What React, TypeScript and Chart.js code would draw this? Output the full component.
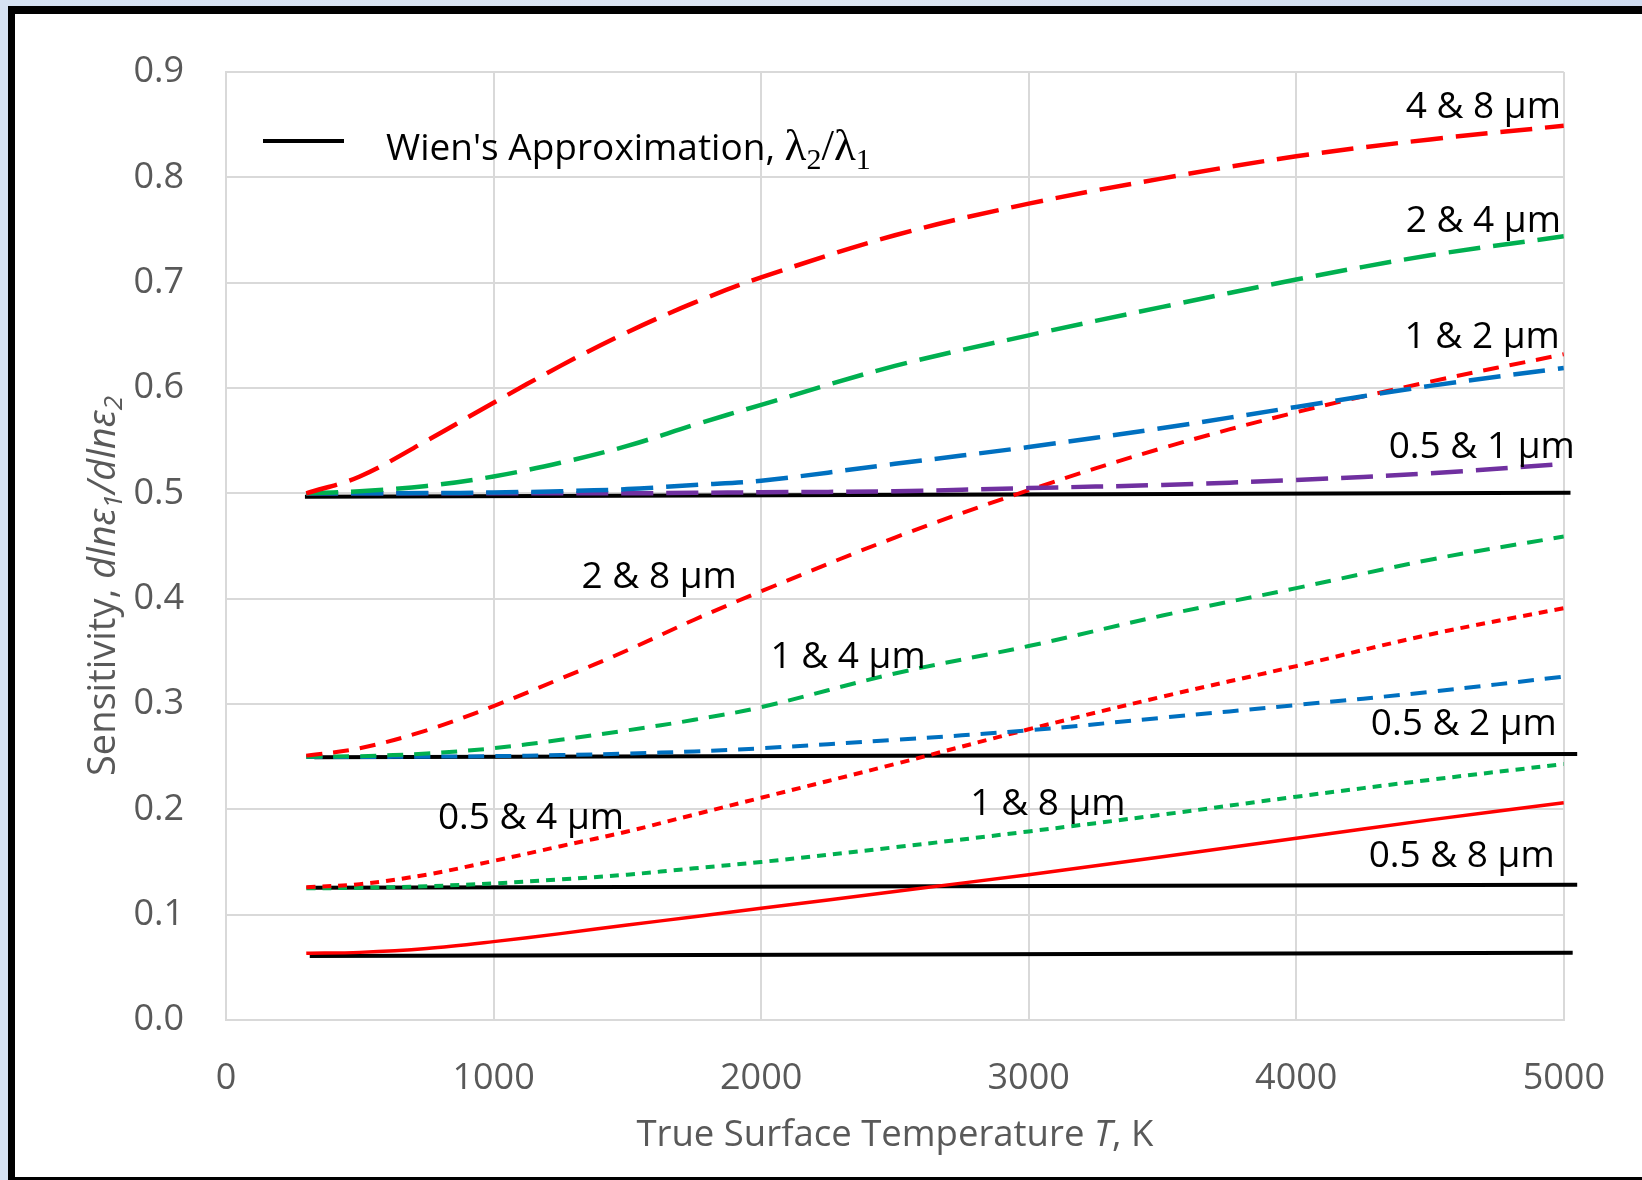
import React, { useEffect, useRef } from "react";
import { Chart, registerables } from "chart.js";

Chart.register(...registerables);

// Temperatures (K) at which the two-colour sensitivity curves are sampled
const temperatures = [300, 500, 750, 1000, 1250, 1500, 1750, 2000, 2500, 3000, 3500, 4000, 4500, 5000];

// Sensitivity dlnε1/dlnε2 for each wavelength pair
const pair4and8 = [0.5, 0.516, 0.55, 0.586, 0.621, 0.653, 0.681, 0.705, 0.745, 0.775, 0.799, 0.82, 0.836, 0.849];
const pair2and4 = [0.5, 0.502, 0.507, 0.516, 0.529, 0.545, 0.565, 0.584, 0.621, 0.65, 0.677, 0.703, 0.726, 0.744];
const pair1and2 = [0.5, 0.5, 0.5002, 0.5008, 0.502, 0.504, 0.508, 0.512, 0.528, 0.544, 0.562, 0.582, 0.602, 0.619];
const pair05and1 = [0.5, 0.5, 0.5, 0.5, 0.5, 0.5, 0.5005, 0.501, 0.502, 0.505, 0.508, 0.5127, 0.519, 0.528];
const pair2and8 = [0.251, 0.258, 0.275, 0.298, 0.324, 0.351, 0.38, 0.407, 0.458, 0.503, 0.543, 0.577, 0.606, 0.632];
const pair1and4 = [0.25, 0.2505, 0.253, 0.258, 0.266, 0.275, 0.285, 0.297, 0.329, 0.355, 0.384, 0.41, 0.437, 0.459];
const pair05and2 = [0.2497, 0.2497, 0.25, 0.2505, 0.2515, 0.253, 0.255, 0.258, 0.266, 0.275, 0.287, 0.299, 0.3115, 0.326];
const pair05and4 = [0.126, 0.129, 0.138, 0.151, 0.165, 0.179, 0.195, 0.211, 0.243, 0.276, 0.307, 0.336, 0.366, 0.391];
const pair1and8 = [0.125, 0.1255, 0.127, 0.1297, 0.1335, 0.138, 0.144, 0.15, 0.164, 0.179, 0.195, 0.212, 0.228, 0.243];
const pair05and8 = [0.0633, 0.0642, 0.0679, 0.0744, 0.082, 0.0902, 0.098, 0.106, 0.122, 0.138, 0.155, 0.1725, 0.19, 0.2063];

// Wien's approximation (λ1/λ2 ratio) reference lines
const wienStartT = [295, 330, 305, 313];
const wienEndT = [5025, 5050, 5050, 5033];
const wienStartValue = [0.4968, 0.2494, 0.1255, 0.0608];
const wienEndValue = [0.5006, 0.2525, 0.1285, 0.0639];

// Axis ticks
const yTicks = [0, 0.1, 0.2, 0.3, 0.4, 0.5, 0.6, 0.7, 0.8, 0.9];
const xTicks = [0, 1000, 2000, 3000, 4000, 5000];

// Curve labels
const labelTexts = ["4 & 8 µm", "2 & 4 µm", "1 & 2 µm", "0.5 & 1 µm", "2 & 8 µm", "1 & 4 µm", "0.5 & 4 µm", "1 & 8 µm", "0.5 & 2 µm", "0.5 & 8 µm"];
const labelT = [4989, 4989, 4985, 5041, 1329, 2035, 792, 2782, 4974, 4966];
const labelV = [0.856, 0.748, 0.638, 0.5336, 0.41, 0.334, 0.181, 0.195, 0.2706, 0.1453];
const labelAlign: CanvasTextAlign[] = ["right", "right", "right", "right", "left", "left", "left", "left", "right", "right"];

const RED = "#ff0000";
const GREEN = "#00b050";
const BLUE = "#0070c0";
const PURPLE = "#7030a0";

const LONG = [32, 13];
const SHORT = [16, 11];
const DOT = [9, 7];

const curves = [
  { name: "4 & 8 µm", values: pair4and8, color: RED, dash: LONG, width: 4.5 },
  { name: "2 & 4 µm", values: pair2and4, color: GREEN, dash: LONG, width: 4.5 },
  { name: "1 & 2 µm", values: pair1and2, color: BLUE, dash: LONG, width: 4.5 },
  { name: "0.5 & 1 µm", values: pair05and1, color: PURPLE, dash: LONG, width: 4.5 },
  { name: "2 & 8 µm", values: pair2and8, color: RED, dash: SHORT, width: 4 },
  { name: "1 & 4 µm", values: pair1and4, color: GREEN, dash: SHORT, width: 4 },
  { name: "0.5 & 2 µm", values: pair05and2, color: BLUE, dash: SHORT, width: 4 },
  { name: "0.5 & 4 µm", values: pair05and4, color: RED, dash: DOT, width: 4 },
  { name: "1 & 8 µm", values: pair1and8, color: GREEN, dash: DOT, width: 4 },
  { name: "0.5 & 8 µm", values: pair05and8, color: RED, dash: [] as number[], width: 3.5 },
];

const FONT = "'Open Sans'";
const AXIS_GRAY = "#595959";

type Seg = { text: string; font: string; dy?: number };

function richWidth(ctx: CanvasRenderingContext2D, segs: Seg[]) {
  let w = 0;
  for (const s of segs) {
    ctx.font = s.font;
    w += ctx.measureText(s.text).width;
  }
  return w;
}

function drawRich(ctx: CanvasRenderingContext2D, segs: Seg[], x: number, y: number, align: "left" | "center") {
  const total = richWidth(ctx, segs);
  let cx = align === "center" ? x - total / 2 : x;
  ctx.textAlign = "left";
  ctx.textBaseline = "alphabetic";
  for (const s of segs) {
    ctx.font = s.font;
    ctx.fillText(s.text, cx, y + (s.dy || 0));
    cx += ctx.measureText(s.text).width;
  }
}

const decorations = {
  id: "decorations",
  afterDatasetsDraw(chart: any) {
    const { ctx, scales, chartArea } = chart;
    const xs = scales.x;
    const ys = scales.y;
    ctx.save();

    // curve labels
    ctx.fillStyle = "#000";
    ctx.font = `37px ${FONT}`;
    ctx.textBaseline = "alphabetic";
    labelTexts.forEach((t, i) => {
      ctx.textAlign = labelAlign[i];
      ctx.fillText(t, xs.getPixelForValue(labelT[i]), ys.getPixelForValue(labelV[i]));
    });

    // legend
    const lx = chartArea.left + 37;
    const ly = chartArea.top + 69;
    ctx.strokeStyle = "#000";
    ctx.lineWidth = 4;
    ctx.setLineDash([]);
    ctx.beginPath();
    ctx.moveTo(lx, ly);
    ctx.lineTo(lx + 81, ly);
    ctx.stroke();
    ctx.fillStyle = "#000";
    drawRich(
      ctx,
      [
        { text: "Wien's Approximation, ", font: `37px ${FONT}` },
        { text: "λ", font: `45px 'Liberation Serif'` },
        { text: "2", font: `30px 'Liberation Serif'`, dy: 9 },
        { text: "/", font: `45px 'Liberation Serif'` },
        { text: "λ", font: `45px 'Liberation Serif'` },
        { text: "1", font: `30px 'Liberation Serif'`, dy: 9 },
      ],
      lx + 123,
      ly + 19,
      "left"
    );

    // x axis title
    ctx.fillStyle = AXIS_GRAY;
    drawRich(
      ctx,
      [
        { text: "True Surface Temperature ", font: `36.5px ${FONT}` },
        { text: "T", font: `italic 36.5px ${FONT}` },
        { text: ", K", font: `36.5px ${FONT}` },
      ],
      (chartArea.left + chartArea.right) / 2,
      chartArea.bottom + 126,
      "center"
    );

    // y axis title
    ctx.translate(chartArea.left - 111, (chartArea.top + chartArea.bottom) / 2 + 40);
    ctx.rotate(-Math.PI / 2);
    drawRich(
      ctx,
      [
        { text: "Sensitivity, ", font: `38px ${FONT}` },
        { text: "dlnε", font: `italic 38px ${FONT}` },
        { text: "1", font: `italic 26px ${FONT}`, dy: 7 },
        { text: "/dlnε", font: `italic 38px ${FONT}` },
        { text: "2", font: `italic 26px ${FONT}`, dy: 7 },
      ],
      0,
      0,
      "center"
    );
    ctx.restore();
  },
};

export default function App() {
  const canvasRef = useRef<HTMLCanvasElement | null>(null);

  useEffect(() => {
    const canvas = canvasRef.current;
    if (!canvas) return;

    const curveSets = curves.map((c) => ({
      label: c.name,
      data: temperatures.map((t, i) => ({ x: t, y: c.values[i] })),
      borderColor: c.color,
      borderWidth: c.width,
      borderDash: c.dash,
      borderCapStyle: "butt" as const,
      pointRadius: 0,
      fill: false,
      tension: 0.35,
    }));

    const wienSets = wienStartT.map((t0, i) => ({
      label: "Wien's Approximation",
      data: [
        { x: t0, y: wienStartValue[i] },
        { x: wienEndT[i], y: wienEndValue[i] },
      ],
      borderColor: "#000",
      borderWidth: 4,
      pointRadius: 0,
      fill: false,
      clip: false as any,
    }));

    const chart = new Chart(canvas, {
      type: "line",
      data: { datasets: [...curveSets, ...wienSets] as any },
      plugins: [decorations],
      options: {
        animation: false,
        responsive: false,
        devicePixelRatio: 1,
        layout: { padding: { left: 0, top: 72, right: 77, bottom: 0 } },
        plugins: { legend: { display: false }, tooltip: { enabled: false } },
        scales: {
          x: {
            type: "linear",
            min: 0,
            max: 5000,
            afterFit: (s: any) => {
              s.height = 160;
            },
            afterBuildTicks: (s: any) => {
              s.ticks = xTicks.map((v) => ({ value: v }));
            },
            grid: { color: "#d9d9d9", lineWidth: 2, drawTicks: false },
            border: { color: "#d9d9d9", width: 2 },
            ticks: {
              padding: 37,
              color: AXIS_GRAY,
              font: { family: FONT, size: 36 },
              callback: (v: any) => String(v),
            },
          },
          y: {
            type: "linear",
            min: 0,
            max: 0.9,
            afterFit: (s: any) => {
              s.width = 226;
            },
            afterBuildTicks: (s: any) => {
              s.ticks = yTicks.map((v) => ({ value: v }));
            },
            grid: { color: "#d9d9d9", lineWidth: 2, drawTicks: false },
            border: { color: "#d9d9d9", width: 2 },
            ticks: {
              padding: 42,
              color: AXIS_GRAY,
              font: { family: FONT, size: 36 },
              callback: (v: any) => Number(v).toFixed(1),
            },
          },
        },
      },
    });

    return () => chart.destroy();
  }, []);

  return (
    <div
      style={{
        position: "fixed",
        left: 0,
        top: 0,
        width: 1642,
        height: 1180,
        overflow: "hidden",
        background: "linear-gradient(90deg, #d6e2f3, #dde6f2 50%, #cfdcf0)",
      }}
    >
      <div
        style={{
          position: "absolute",
          left: 8,
          top: 6,
          width: 1700,
          height: 1179,
          boxSizing: "border-box",
          borderLeft: "7px solid #000",
          borderTop: "8px solid #000",
          borderBottom: "8px solid #000",
          background: "#fff",
        }}
      />
      <canvas
        ref={canvasRef}
        width={1642}
        height={1180}
        style={{ position: "absolute", left: 0, top: 0, width: 1642, height: 1180 }}
      />
    </div>
  );
}
